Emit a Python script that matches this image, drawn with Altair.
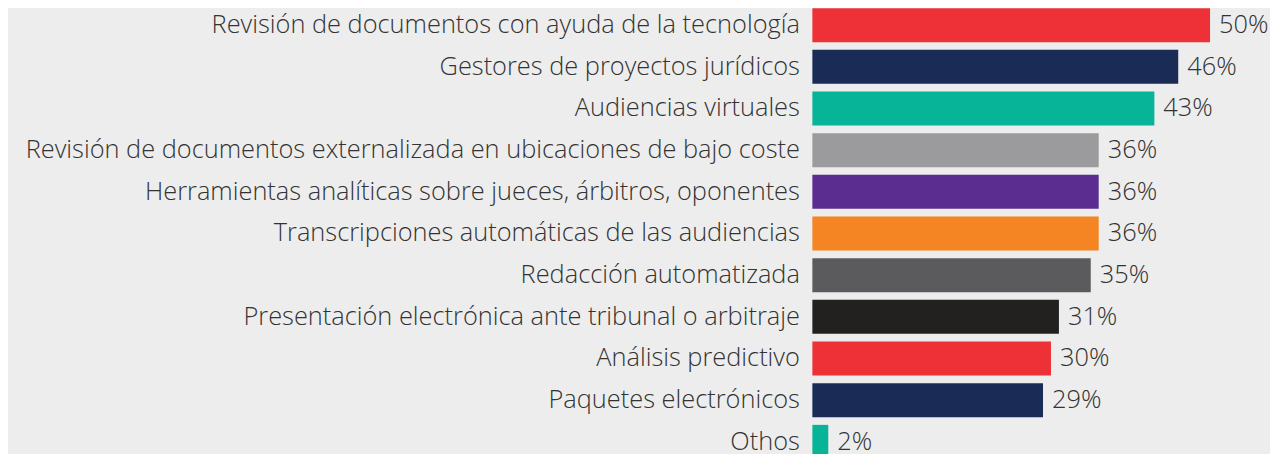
import altair as alt
import pandas as pd

categories = [
    "Revisión de documentos con ayuda de la tecnología",
    "Gestores de proyectos jurídicos",
    "Audiencias virtuales",
    "Revisión de documentos externalizada en ubicaciones de bajo coste",
    "Herramientas analíticas sobre jueces, árbitros, oponentes",
    "Transcripciones automáticas de las audiencias",
    "Redacción automatizada",
    "Presentación electrónica ante tribunal o arbitraje",
    "Análisis predictivo",
    "Paquetes electrónicos",
    "Othos",
]
values = [50, 46, 43, 36, 36, 36, 35, 31, 30, 29, 2]
colors = ["#ee3136", "#1a2b55", "#07b498", "#9b9b9d", "#5c2d90", "#f58423",
          "#5b5b5d", "#222120", "#ee3136", "#1a2b55", "#07b498"]

df = pd.DataFrame({"cat": categories, "val": values,
                   "lbl": [f"{v}%" for v in values]})

FONT = "Open Sans"
TXT = "#333333"
FS = 25.4

y = alt.Y("cat:N", sort=categories, title=None,
          scale=alt.Scale(paddingInner=0.185, paddingOuter=0),
          axis=alt.Axis(domain=False, ticks=False, tickSize=0, labelPadding=13,
                        labelFont=FONT, labelFontSize=FS, labelColor=TXT,
                        labelLimit=900, labelFontWeight=300))
x = alt.X("val:Q", title=None, scale=alt.Scale(domain=[0, 50]), axis=None)

bars = alt.Chart(df).mark_bar().encode(
    x=x, y=y,
    color=alt.Color("cat:N", scale=alt.Scale(domain=categories, range=colors), legend=None),
)
text = alt.Chart(df).mark_text(align="left", baseline="middle", dx=9,
                               font=FONT, fontSize=FS, color=TXT, fontWeight=300).encode(
    x=x, y=y, text="lbl:N")

chart = (bars + text).properties(
    width=398, height=451,
    background="#ededed",
    padding={"left": 805, "top": 0, "right": 60, "bottom": 0},
    autosize=alt.AutoSizeParams(type="none"),
).configure_view(stroke=None)

chart.save("out.html", embed_options={"renderer": "svg", "actions": False})
